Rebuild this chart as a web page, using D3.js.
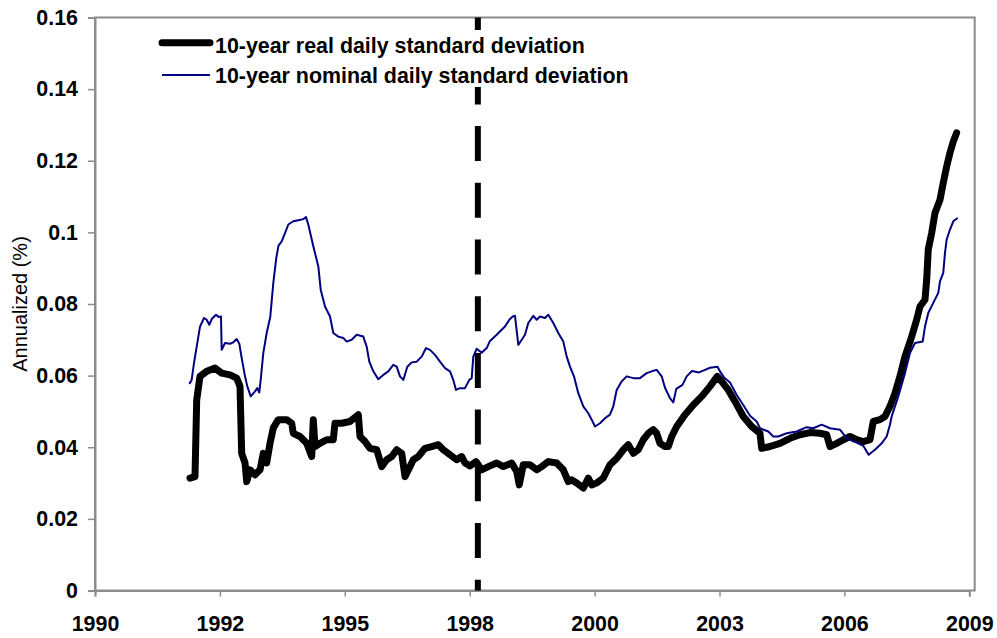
<!DOCTYPE html>
<html>
<head>
<meta charset="utf-8">
<script src="https://cdn.jsdelivr.net/npm/d3@7"></script>
<style>
  html, body { margin: 0; padding: 0; background: #fff; }
  svg { display: block; font-family: "Liberation Sans", Arial, sans-serif; }
</style>
</head>
<body>
<div id="chart"></div>
<script>
// series (decimal year, annualized value)
const realYears = [1992.064, 1992.173, 1992.210, 1992.282, 1992.427, 1992.608, 1992.753, 1992.934, 1993.079, 1993.151,
  1993.188, 1993.260, 1993.297, 1993.368, 1993.477, 1993.586, 1993.657, 1993.731, 1993.803, 1993.875,
  1993.983, 1994.166, 1994.274, 1994.309, 1994.455, 1994.600, 1994.709, 1994.744, 1994.781, 1994.889,
  1995.035, 1995.178, 1995.215, 1995.361, 1995.541, 1995.722, 1995.759, 1995.867, 1995.976, 1996.122,
  1996.230, 1996.339, 1996.448, 1996.556, 1996.665, 1996.737, 1996.845, 1996.917, 1997.026, 1997.171,
  1997.317, 1997.460, 1997.569, 1997.715, 1997.860, 1997.969, 1998.040, 1998.149, 1998.280, 1998.401,
  1998.584, 1998.729, 1998.873, 1999.055, 1999.164, 1999.220, 1999.307, 1999.453, 1999.599, 1999.707,
  1999.851, 2000.033, 2000.177, 2000.285, 2000.359, 2000.468, 2000.611, 2000.720, 2000.794, 2000.902,
  2001.046, 2001.191, 2001.337, 2001.481, 2001.589, 2001.698, 2001.806, 2001.915, 2002.024, 2002.132,
  2002.206, 2002.278, 2002.387, 2002.458, 2002.532, 2002.641, 2002.821, 2003.001, 2003.184, 2003.365,
  2003.523, 2003.618, 2003.762, 2003.908, 2004.088, 2004.271, 2004.451, 2004.488, 2004.668, 2004.885,
  2005.103, 2005.320, 2005.537, 2005.755, 2005.900, 2005.972, 2006.118, 2006.261, 2006.407, 2006.552,
  2006.696, 2006.842, 2006.914, 2007.058, 2007.167, 2007.276, 2007.385, 2007.493, 2007.602, 2007.748,
  2007.856, 2007.928, 2008.037, 2008.074, 2008.108, 2008.182, 2008.254, 2008.363, 2008.434, 2008.508,
  2008.580, 2008.652, 2008.725];
const realValues = [0.0314, 0.0318, 0.0532, 0.0598, 0.0612, 0.0621, 0.0607, 0.0602, 0.0593, 0.0570,
  0.0383, 0.0356, 0.0304, 0.0337, 0.0323, 0.0337, 0.0383, 0.0356, 0.0411, 0.0454,
  0.0477, 0.0477, 0.0467, 0.0439, 0.0430, 0.0411, 0.0374, 0.0477, 0.0402, 0.0411,
  0.0421, 0.0421, 0.0467, 0.0467, 0.0472, 0.0491, 0.0430, 0.0416, 0.0397, 0.0393,
  0.0346, 0.0365, 0.0374, 0.0393, 0.0383, 0.0318, 0.0346, 0.0365, 0.0374, 0.0397,
  0.0402, 0.0407, 0.0393, 0.0379, 0.0365, 0.0374, 0.0356, 0.0348, 0.0360, 0.0337,
  0.0348, 0.0356, 0.0346, 0.0356, 0.0332, 0.0295, 0.0351, 0.0351, 0.0337, 0.0346,
  0.0360, 0.0356, 0.0337, 0.0304, 0.0309, 0.0300, 0.0286, 0.0314, 0.0295, 0.0300,
  0.0314, 0.0351, 0.0369, 0.0393, 0.0407, 0.0383, 0.0393, 0.0421, 0.0439, 0.0449,
  0.0439, 0.0411, 0.0402, 0.0402, 0.0430, 0.0458, 0.0491, 0.0518, 0.0542, 0.0570,
  0.0598, 0.0584, 0.0560, 0.0528, 0.0486, 0.0458, 0.0439, 0.0397, 0.0402, 0.0411,
  0.0425, 0.0435, 0.0441, 0.0439, 0.0435, 0.0402, 0.0411, 0.0421, 0.0430, 0.0421,
  0.0416, 0.0421, 0.0472, 0.0477, 0.0486, 0.0514, 0.0551, 0.0598, 0.0653, 0.0709,
  0.0756, 0.0793, 0.0812, 0.0868, 0.0952, 0.0998, 0.1054, 0.1091, 0.1138, 0.1184,
  0.1222, 0.1254, 0.1278];

const nominalYears = [1992.049, 1992.101, 1992.151, 1992.210, 1992.282, 1992.369, 1992.427, 1992.484, 1992.536, 1992.629,
  1992.688, 1992.738, 1992.753, 1992.825, 1992.934, 1993.005, 1993.079, 1993.136, 1993.188, 1993.260,
  1993.310, 1993.384, 1993.477, 1993.527, 1993.570, 1993.601, 1993.657, 1993.731, 1993.809, 1993.875,
  1993.940, 1993.988, 1994.057, 1994.129, 1994.201, 1994.309, 1994.418, 1994.527, 1994.585, 1994.635,
  1994.744, 1994.853, 1994.905, 1994.998, 1995.107, 1995.178, 1995.287, 1995.396, 1995.470, 1995.578,
  1995.687, 1995.830, 1995.904, 1995.961, 1996.048, 1996.156, 1996.265, 1996.374, 1996.482, 1996.556,
  1996.628, 1996.700, 1996.787, 1996.882, 1996.991, 1997.100, 1997.193, 1997.280, 1997.389, 1997.497,
  1997.606, 1997.715, 1997.786, 1997.845, 1997.932, 1998.040, 1998.134, 1998.186, 1998.221, 1998.295,
  1998.403, 1998.512, 1998.584, 1998.729, 1998.838, 1998.910, 1999.003, 1999.077, 1999.127, 1999.199,
  1999.273, 1999.344, 1999.416, 1999.525, 1999.599, 1999.670, 1999.779, 1999.851, 1999.959, 2000.068,
  2000.177, 2000.251, 2000.322, 2000.409, 2000.503, 2000.611, 2000.720, 2000.794, 2000.866, 2000.974,
  2001.083, 2001.191, 2001.263, 2001.337, 2001.446, 2001.554, 2001.698, 2001.843, 2001.989, 2002.098,
  2002.206, 2002.315, 2002.387, 2002.495, 2002.567, 2002.632, 2002.767, 2002.858, 2002.973, 2003.125,
  2003.219, 2003.365, 2003.527, 2003.582, 2003.669, 2003.799, 2003.945, 2004.017, 2004.088, 2004.234,
  2004.380, 2004.451, 2004.632, 2004.740, 2004.849, 2005.031, 2005.249, 2005.466, 2005.609, 2005.792,
  2005.972, 2006.190, 2006.335, 2006.552, 2006.696, 2006.813, 2006.950, 2007.096, 2007.204, 2007.276,
  2007.313, 2007.456, 2007.602, 2007.711, 2007.819, 2007.987, 2008.037, 2008.108, 2008.217, 2008.326,
  2008.363, 2008.434, 2008.471, 2008.508, 2008.580, 2008.652, 2008.748];
const nominalValues = [0.0577, 0.0588, 0.0635, 0.0681, 0.0737, 0.0761, 0.0756, 0.0742, 0.0758, 0.0770,
  0.0764, 0.0765, 0.0672, 0.0691, 0.0689, 0.0693, 0.0702, 0.0689, 0.0649, 0.0598,
  0.0570, 0.0542, 0.0556, 0.0565, 0.0553, 0.0588, 0.0663, 0.0719, 0.0764, 0.0859,
  0.0929, 0.0963, 0.0975, 0.0998, 0.1022, 0.1031, 0.1034, 0.1037, 0.1043, 0.1022,
  0.0961, 0.0905, 0.0840, 0.0793, 0.0765, 0.0719, 0.0709, 0.0705, 0.0695, 0.0700,
  0.0714, 0.0709, 0.0681, 0.0639, 0.0612, 0.0590, 0.0602, 0.0612, 0.0630, 0.0625,
  0.0598, 0.0588, 0.0625, 0.0637, 0.0639, 0.0653, 0.0677, 0.0672, 0.0658, 0.0639,
  0.0621, 0.0612, 0.0588, 0.0560, 0.0565, 0.0565, 0.0588, 0.0593, 0.0653, 0.0675,
  0.0664, 0.0677, 0.0697, 0.0714, 0.0728, 0.0737, 0.0756, 0.0765, 0.0767, 0.0686,
  0.0700, 0.0714, 0.0747, 0.0767, 0.0756, 0.0765, 0.0761, 0.0770, 0.0747, 0.0719,
  0.0695, 0.0653, 0.0625, 0.0598, 0.0551, 0.0514, 0.0495, 0.0477, 0.0458, 0.0467,
  0.0481, 0.0491, 0.0514, 0.0560, 0.0584, 0.0598, 0.0593, 0.0593, 0.0607, 0.0612,
  0.0616, 0.0598, 0.0566, 0.0537, 0.0525, 0.0563, 0.0574, 0.0598, 0.0613, 0.0609,
  0.0614, 0.0622, 0.0625, 0.0612, 0.0595, 0.0581, 0.0546, 0.0532, 0.0518, 0.0488,
  0.0472, 0.0453, 0.0444, 0.0430, 0.0430, 0.0439, 0.0444, 0.0456, 0.0453, 0.0463,
  0.0453, 0.0449, 0.0425, 0.0413, 0.0404, 0.0379, 0.0393, 0.0411, 0.0430, 0.0463,
  0.0486, 0.0542, 0.0607, 0.0663, 0.0691, 0.0695, 0.0737, 0.0775, 0.0803, 0.0831,
  0.0863, 0.0887, 0.0942, 0.0980, 0.1008, 0.1031, 0.1040];

const seriesNames = ["10-year real daily standard deviation", "10-year nominal daily standard deviation"];
const xTickLabels = ["1990", "1992", "1995", "1998", "2000", "2003", "2006", "2009"];
const yTicks = [0, 0.02, 0.04, 0.06, 0.08, 0.1, 0.12, 0.14, 0.16];
const yTickLabels = ["0", "0.02", "0.04", "0.06", "0.08", "0.1", "0.12", "0.14", "0.16"];
const breakYear = 1998.32; // dashed marker
const yTitle = "Annualized (%)";

const width = 997, height = 638;
const plot = { left: 95, top: 17.5, bottom: 590.5, right: 974.7, lastTick: 969.3 };
const fontSize = 21.4;

const svg = d3.select("#chart").append("svg")
  .attr("width", width)
  .attr("height", height);

const x = d3.scaleLinear().domain([1990, 2009]).range([plot.left, plot.lastTick]);
const y = d3.scaleLinear().domain([0, 0.16]).range([plot.bottom, plot.top]);

// frame
svg.append("rect")
  .attr("x", plot.left)
  .attr("y", plot.top)
  .attr("width", plot.right - plot.left)
  .attr("height", plot.bottom - plot.top)
  .attr("fill", "none")
  .attr("stroke", "#8c8c8c")
  .attr("stroke-width", 2);

// Y axis
const yAxis = svg.append("g")
  .attr("transform", `translate(${plot.left},0)`)
  .call(d3.axisLeft(y).tickValues(yTicks).tickFormat((d, i) => yTickLabels[i]).tickSize(7).tickPadding(10));

// X axis: evenly spaced date ticks, labels as Excel shows them
const xTickPos = xTickLabels.map((_, i) => 1990 + i * 19 / (xTickLabels.length - 1));
const xAxis = svg.append("g")
  .attr("transform", `translate(0,${plot.bottom})`)
  .call(d3.axisBottom(x).tickValues(xTickPos).tickFormat((d, i) => xTickLabels[i]).tickSize(6).tickPadding(19));

[yAxis, xAxis].forEach(g => {
  g.select(".domain").attr("stroke", "#8c8c8c").attr("stroke-width", 2);
  g.selectAll(".tick line").attr("stroke", "#8c8c8c").attr("stroke-width", 1.5);
  g.selectAll("text")
    .attr("fill", "#000")
    .style("font-family", "'Liberation Sans', Arial, sans-serif")
    .style("font-size", `${fontSize}px`)
    .style("font-weight", "bold");
});

// y title
svg.append("text")
  .attr("transform", `translate(27,${(plot.top + plot.bottom) / 2}) rotate(-90)`)
  .attr("text-anchor", "middle")
  .style("font-size", "20px")
  .text(yTitle);

const line = d3.line()
  .x(d => x(d[0]))
  .y(d => y(d[1]));

const realData = realYears.map((t, i) => [t, realValues[i]]);
const nominalData = nominalYears.map((t, i) => [t, nominalValues[i]]);

svg.append("path")
  .datum(realData)
  .attr("d", line)
  .attr("fill", "none")
  .attr("stroke", "#000")
  .attr("stroke-width", 7)
  .attr("stroke-linejoin", "round")
  .attr("stroke-linecap", "round");

svg.append("path")
  .datum(nominalData)
  .attr("d", line)
  .attr("fill", "none")
  .attr("stroke", "#000080")
  .attr("stroke-width", 2)
  .attr("stroke-linejoin", "round");

// dashed vertical marker
svg.append("line")
  .attr("x1", x(breakYear)).attr("x2", x(breakYear))
  .attr("y1", plot.top).attr("y2", plot.bottom)
  .attr("stroke", "#000")
  .attr("stroke-width", 6)
  .attr("stroke-dasharray", "35 21.7")
  .attr("stroke-dashoffset", 4.8);

// legend (white box hides the marker behind it)
svg.append("rect")
  .attr("x", 155).attr("y", 30)
  .attr("width", 485).attr("height", 57)
  .attr("fill", "#fff");

const legend = [
  { name: seriesNames[0], color: "#000", w: 7, ly: 42.7, ty: 53.3 },
  { name: seriesNames[1], color: "#000080", w: 2, ly: 75, ty: 83.3 }
];
legend.forEach(l => {
  svg.append("line")
    .attr("x1", 162).attr("x2", 210)
    .attr("y1", l.ly).attr("y2", l.ly)
    .attr("stroke", l.color)
    .attr("stroke-width", l.w)
    .attr("stroke-linecap", l.w > 3 ? "round" : "butt");
  svg.append("text")
    .attr("x", 215)
    .attr("y", l.ty)
    .style("font-size", `${fontSize}px`)
    .style("font-weight", "bold")
    .text(l.name);
});
</script>
</body>
</html>
